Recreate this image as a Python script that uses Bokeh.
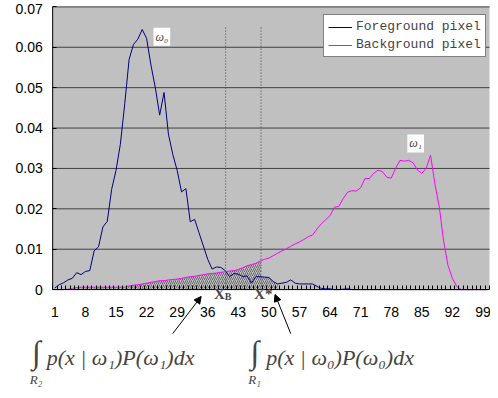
import numpy as np
from bokeh.plotting import figure
from bokeh.models import (Range1d, FixedTicker, Legend, LegendItem, Label,
                          Arrow, NormalHead)
from bokeh.core.properties import value
from bokeh.embed import file_html
from bokeh.resources import INLINE

# ---- data -------------------------------------------------------------
categories = list(range(1, 101))

foreground = [
    0.0004, 0.0012, 0.0017, 0.0024, 0.0028, 0.0042, 0.0037, 0.0045, 0.0047, 0.0096,   # 1-10
    0.0106, 0.0155, 0.0169, 0.0248, 0.0295, 0.0360, 0.0460, 0.0570, 0.0607, 0.0620,   # 11-20
    0.0644, 0.0622, 0.0556, 0.0500, 0.0432, 0.0488, 0.0385, 0.0335, 0.0295, 0.0242,   # 21-30
    0.0250, 0.0168, 0.0174, 0.0141, 0.0108, 0.0075, 0.0051, 0.0056, 0.0055, 0.0047,   # 31-40
    0.0032, 0.0040, 0.0038, 0.0032, 0.0034, 0.0016, 0.0032, 0.0032, 0.0031, 0.0030,   # 41-50
    0.0020, 0.0014, 0.0016, 0.0018, 0.0024, 0.0016, 0.0014, 0.0014, 0.0014, 0.0014,   # 51-60
    0.0008, 0.0003, 0.0002, 0.0002, 0.0000, 0.0000, 0.0001, 0.0002, 0.0000, 0.0000,   # 61-70
] + [0.0] * 30

background = [
    0.0000, 0.0000, 0.0000, 0.0001, 0.0003, 0.0005, 0.0006, 0.0006, 0.0006, 0.0006,   # 1-10
    0.0006, 0.0006, 0.0006, 0.0006, 0.0006, 0.0006, 0.0006, 0.0009, 0.0011, 0.0012,   # 11-20
    0.0014, 0.0016, 0.0018, 0.0020, 0.0022, 0.0022, 0.0024, 0.0025, 0.0026, 0.0028,   # 21-30
    0.0030, 0.0032, 0.0033, 0.0035, 0.0037, 0.0039, 0.0040, 0.0041, 0.0043, 0.0044,   # 31-40
    0.0046, 0.0047, 0.0050, 0.0054, 0.0059, 0.0062, 0.0065, 0.0071, 0.0075, 0.0078,   # 41-50
    0.0084, 0.0090, 0.0096, 0.0101, 0.0107, 0.0113, 0.0118, 0.0124, 0.0131, 0.0135,   # 51-60
    0.0150, 0.0163, 0.0173, 0.0183, 0.0204, 0.0206, 0.0225, 0.0241, 0.0245, 0.0244,   # 61-70
    0.0252, 0.0275, 0.0275, 0.0288, 0.0296, 0.0292, 0.0278, 0.0276, 0.0300, 0.0320,   # 71-80
    0.0318, 0.0320, 0.0314, 0.0296, 0.0288, 0.0300, 0.0333, 0.0262, 0.0205, 0.0120,   # 81-90
    0.0060, 0.0028, 0.0008, 0.0000, 0.0000, 0.0000, 0.0000, 0.0000, 0.0000, 0.0000,   # 91-100
]

x_tick_labels = [1, 8, 15, 22, 29, 36, 43, 50, 57, 64, 71, 78, 85, 92, 99]
y_ticks = [0, 0.01, 0.02, 0.03, 0.04, 0.05, 0.06, 0.07]
y_tick_labels = ["0", "0.01", "0.02", "0.03", "0.04", "0.05", "0.06", "0.07"]

x_b = 40.1        # decision boundary XB
x_star = 48.2     # optimal threshold X*
shade_end = 52    # end of hatched R1 region

X_MIN, X_MAX = 0.5, 100.5     # category axis extent
Y_MIN, Y_MAX = 0.0, 0.07      # value axis extent

# ---- figure (frame spans whole canvas so annotations below axis show) ---
p = figure(width=490, height=390, output_backend="svg", toolbar_location=None,
           x_range=Range1d(-11.44, 100.73), y_range=Range1d(-0.02498, 0.07158),
           min_border_left=0, min_border_right=0, min_border_top=0,
           min_border_bottom=0)
p.background_fill_color = "white"
p.border_fill_color = "white"
p.outline_line_color = None
p.grid.visible = False

# plot area
p.quad(left=[X_MIN], right=[X_MAX], bottom=[Y_MIN], top=[Y_MAX],
       fill_color="#C0C0C0", line_color=None, level="image")
p.segment(x0=[X_MIN] * len(y_ticks[1:]), y0=y_ticks[1:],
          x1=[X_MAX] * len(y_ticks[1:]), y1=y_ticks[1:],
          line_color="#404040", line_width=1)
p.segment(x0=[X_MIN], y0=[Y_MAX], x1=[X_MAX], y1=[Y_MAX],
          line_color="#808080", line_width=1)

# hatched overlap regions
cats = np.array(categories, dtype=float)
fg = np.array(foreground)
bg = np.array(background)
left_mask = cats <= x_star
sx = list(cats[left_mask]) + [x_star]
sy = list(bg[left_mask]) + [float(np.interp(x_star, cats, bg))]
hatch = dict(fill_alpha=0, hatch_pattern="right_diagonal_line",
             hatch_color="#606060", hatch_scale=4, hatch_weight=0.9)
p.varea(x=sx, y1=0, y2=sy, **hatch)
right_mask = (cats > x_star) & (cats <= shade_end)
rx = [x_star] + list(cats[right_mask])
ry = [float(np.interp(x_star, cats, fg))] + list(fg[right_mask])
p.varea(x=rx, y1=0, y2=ry, **hatch)

# dotted verticals
p.segment(x0=[x_b, x_star], y0=[0, 0], x1=[x_b, x_star], y1=[0.0653, 0.0653],
          line_color="#404040", line_dash="1 2", line_width=1)

r_fg = p.line(categories, foreground, line_color="#000080", line_width=1)
r_bg = p.line(categories, background, line_color="#FF00FF", line_width=1)

# axis lines
p.segment(x0=[X_MIN, X_MIN], y0=[Y_MIN, Y_MIN], x1=[X_MAX, X_MIN], y1=[Y_MIN, Y_MAX],
          line_color="black", line_width=1)

# axes drawn at fixed locations (tick marks only); labels as text
p.yaxis.fixed_location = X_MIN
p.yaxis.ticker = FixedTicker(ticks=[], minor_ticks=y_ticks)
p.yaxis.minor_tick_in = 4
p.yaxis.minor_tick_out = 0
p.yaxis.minor_tick_line_color = "black"
p.yaxis.major_tick_line_color = None
p.yaxis.axis_line_color = None

p.xaxis.fixed_location = Y_MIN
p.xaxis.ticker = FixedTicker(ticks=[],
                             minor_ticks=[c - 0.5 for c in categories] + [100.5])
p.xaxis.major_tick_line_color = None
p.xaxis.minor_tick_in = 4
p.xaxis.minor_tick_out = 0
p.xaxis.minor_tick_line_color = "black"
p.xaxis.axis_line_color = None

p.text(x=[-1.75] * len(y_ticks), y=y_ticks, text=y_tick_labels,
       y_offset=[0, 0, 0, 0, 0, 0, 0, 2],
       text_font=value("Liberation Sans"), text_font_size="14px",
       text_align="right", text_baseline="middle", text_color="black")
p.text(x=x_tick_labels, y=[-0.00557] * len(x_tick_labels),
       text=[str(v) for v in x_tick_labels],
       text_font=value("Liberation Sans"), text_font_size="14px",
       text_align="center", text_baseline="middle", text_color="black")

# legend
legend = Legend(items=[LegendItem(label="Foreground pixel", renderers=[r_fg]),
                       LegendItem(label="Background pixel", renderers=[r_bg])],
                location=(323, 333))
legend.border_line_color = "black"
legend.background_fill_color = "white"
legend.background_fill_alpha = 1
legend.label_text_font = "Liberation Mono"
legend.label_text_font_size = "13px"
legend.glyph_width = 24
legend.glyph_height = 14
legend.label_height = 14
legend.label_standoff = 4
legend.spacing = 3
legend.padding = 4
legend.margin = 0
p.add_layout(legend)

# omega labels
for txt, xx, yy in [("ω₀", 25.5, 0.0626), ("ω₁", 83.6, 0.0362)]:
    p.add_layout(Label(x=xx, y=yy, text=txt, text_font="Liberation Serif",
                       text_font_style="italic", text_font_size="12px",
                       text_align="center", text_baseline="middle",
                       background_fill_color="white", border_line_color=None,
                       padding=2))

# XB / X* labels below axis
p.add_layout(Label(x=39.9, y=-0.00314, text="X", text_font="Liberation Serif",
                   text_font_style="bold", text_font_size="15px",
                   text_align="right", text_baseline="bottom"))
p.add_layout(Label(x=39.9, y=-0.00314, text="B", text_font="Liberation Serif",
                   text_font_style="bold", text_font_size="10px",
                   text_align="left", text_baseline="bottom"))
p.add_layout(Label(x=48.7, y=-0.00314, text="X*", text_font="Liberation Serif",
                   text_font_style="bold", text_font_size="15px",
                   text_align="center", text_baseline="bottom"))

# formulas
def formula(x_int, x_txt, sub, w):
    p.add_layout(Label(x=x_int, y=-0.0155, text="∫", text_font="Liberation Serif",
                       text_font_size="32px", text_align="center",
                       text_baseline="middle"))
    p.add_layout(Label(x=x_int - 0.1, y=-0.0223, text="R" + sub,
                       text_font="Liberation Serif", text_font_style="italic",
                       text_font_size="13px", text_align="center",
                       text_baseline="middle"))
    p.add_layout(Label(x=x_txt, y=-0.0167,
                       text="p(x | " + w + ")P(" + w + ")dx",
                       text_font="Liberation Serif", text_font_style="italic",
                       text_font_size="22px", text_align="left",
                       text_baseline="alphabetic"))

formula(-3.22, -0.86, "₂", "ω₁")
formula(46.8, 49.4, "₁", "ω₀")

head = dict(size=7, fill_color="black", line_color="black")
p.add_layout(Arrow(end=NormalHead(**head), x_start=27.98, y_start=-0.0109,
                   x_end=34.5, y_end=-0.0017, line_color="black", line_width=1))
p.add_layout(Arrow(end=NormalHead(**head), x_start=55.0, y_start=-0.0109,
                   x_end=51.4, y_end=-0.0012, line_color="black", line_width=1))

open("out.html", "w").write(file_html(p, INLINE))
